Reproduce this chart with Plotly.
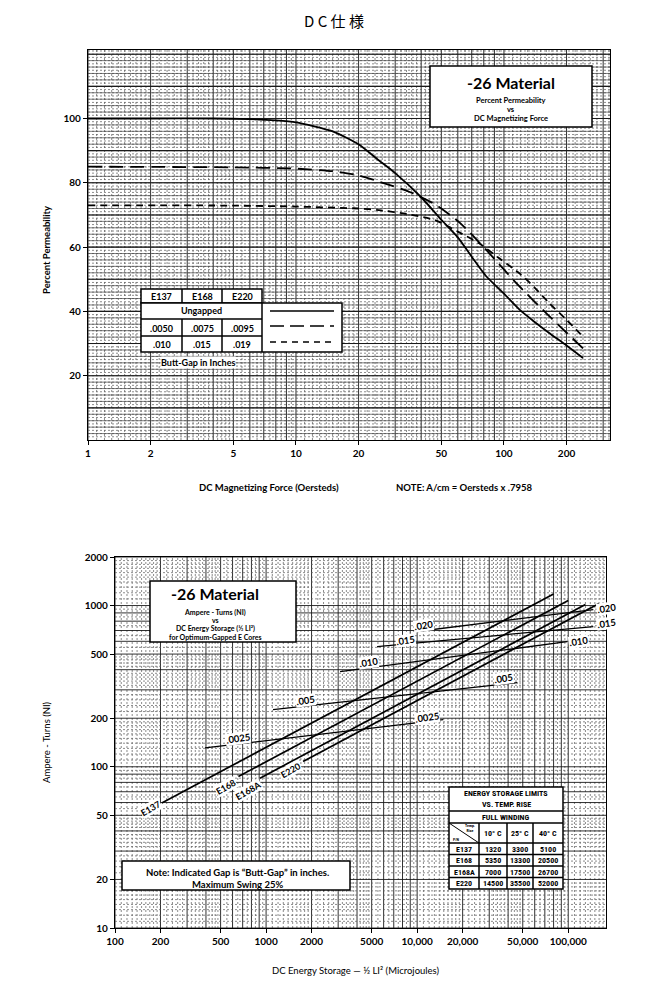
import math
import plotly.graph_objects as go

W, H = 669, 984
OFF = 8  # page body margin of the browser

# ---------------- top chart: Percent Permeability vs DC Magnetizing Force ----------------
force_solid = [1, 2, 4, 6, 8, 10, 15, 20, 25, 30, 40, 50, 60, 70, 82, 100, 120, 140, 165, 200, 240]
perm_solid = [100, 100, 100, 99.8, 99.4, 98.8, 96, 92, 87, 83, 75.5, 68.5, 63, 57, 51, 45.5, 40.3, 36.8, 33.3, 29.4, 25.5]

force_longdash = [1, 5, 10, 15, 20, 25, 35, 47, 62, 82, 115, 160, 240]
perm_longdash = [85, 84.8, 84.4, 83.6, 82.3, 80.4, 77.2, 73.2, 67.3, 59.2, 48.7, 39.4, 28.5]

force_dash = [1, 5, 10, 20, 25, 35, 47, 60, 76, 95, 120, 140, 165, 200, 240]
perm_dash = [73, 72.9, 72.6, 72, 71.5, 70.2, 68.3, 64.8, 61.2, 56.5, 51.6, 47.5, 42.6, 37.4, 32.1]

top_x_ticks = [1, 2, 5, 10, 20, 50, 100, 200]
top_y_ticks = [20, 40, 60, 80, 100]

legend_cores = ["E137", "E168", "E220"]
legend_gap_mid = [".0050", ".0075", ".0095"]
legend_gap_low = [".010", ".015", ".019"]

# ---------------- bottom chart: Ampere-Turns vs DC Energy Storage ----------------
energy_e137 = [204, 80000]
turns_e137 = [59.6, 1180]
energy_e168 = [656, 100000]
turns_e168 = [87, 1074]
energy_e168a = [912, 130000]
turns_e168a = [85, 1015]
energy_e220 = [1758, 160000]
turns_e220 = [108, 1030]

gap_0025_energy = [394, 14870]
gap_0025_turns = [131, 196]
gap_005_energy = [1112, 45900]
gap_005_turns = [226, 333]
gap_010_energy = [3090, 98400]
gap_010_turns = [389, 597]
gap_015_energy = [5430, 146600]
gap_015_turns = [556, 741]
gap_020_energy = [10000, 146600]
gap_020_turns = [690, 944]

bot_x_ticks = [100, 200, 500, 1000, 2000, 5000, 10000, 20000, 50000, 100000]
bot_x_text = ["100", "200", "500", "1000", "2000", "5000", "10,000", "20,000", "50,000", "100,000"]
bot_y_ticks = [10, 20, 50, 100, 200, 500, 1000, 2000]

table_cores = ["E137", "E168", "E168A", "E220"]
limit_10c = [1320, 5350, 7000, 14500]
limit_25c = [3300, 13300, 17500, 35500]
limit_40c = [5100, 20500, 26700, 52000]

# ---------------- geometry (pixels) ----------------
TOP = dict(l=88, r=610, t=50, b=440, xr=[0, 2.51], yr=[0, 121.3])
BOT = dict(l=115, r=606, t=557, b=928, xr=[2, 5.25], yr=[1, math.log10(2000)])

FONT = "Lato, 'Open Sans', sans-serif"


def px(x):
    return (x - OFF) / W


def py(y):
    return 1 - (y - OFF) / H


def frange(a, b, s):
    out, v = [], a
    while v < b - 1e-9:
        out.append(round(v, 6))
        v += s
    return out


SUB = frange(1.1, 2, 0.1) + [m for m in frange(2.2, 5, 0.2) if abs(m - round(m)) > 1e-6] + \
    [m for m in frange(5.5, 10, 0.5) if abs(m - round(m)) > 1e-6]


def log_vals(lo, hi, mults):
    out = []
    k = math.floor(math.log10(lo))
    while 10 ** k <= hi:
        for m in mults:
            v = m * 10 ** k
            if lo <= v <= hi:
                out.append(v)
        k += 1
    return out


fig = go.Figure()


def vlines(vals, y0, y1, xa, ya, color, width, dash="solid"):
    xs, ys = [], []
    for v in vals:
        xs += [v, v, None]
        ys += [y0, y1, None]
    fig.add_trace(go.Scatter(x=xs, y=ys, xaxis=xa, yaxis=ya, mode="lines",
                             line=dict(color=color, width=width, dash=dash),
                             hoverinfo="skip", showlegend=False))


def hlines(vals, x0, x1, xa, ya, color, width, dash="solid"):
    xs, ys = [], []
    for v in vals:
        xs += [x0, x1, None]
        ys += [v, v, None]
    fig.add_trace(go.Scatter(x=xs, y=ys, xaxis=xa, yaxis=ya, mode="lines",
                             line=dict(color=color, width=width, dash=dash),
                             hoverinfo="skip", showlegend=False))


FINE = "#5a5a5a"
MID = "#1a1a1a"

# ---- top grid ----
tx_lo, tx_hi = 10 ** TOP["xr"][0], 10 ** TOP["xr"][1]
vlines(log_vals(tx_lo, tx_hi, SUB), TOP["yr"][0], TOP["yr"][1], "x", "y", FINE, 0.7, "2px,2px")
vlines(log_vals(tx_lo, tx_hi, range(1, 10)), TOP["yr"][0], TOP["yr"][1], "x", "y", MID, 0.9)
hlines(frange(1, 121.3, 1), tx_lo, tx_hi, "x", "y", FINE, 0.7, "2px,2px")
hlines(frange(2, 121.3, 2), tx_lo, tx_hi, "x", "y", "#444444", 0.7)
hlines(frange(10, 121.3, 10), tx_lo, tx_hi, "x", "y", MID, 1.1)

# ---- bottom grid ----
bx_lo, bx_hi = 10 ** BOT["xr"][0], 10 ** BOT["xr"][1]
by_lo, by_hi = 10 ** BOT["yr"][0], 10 ** BOT["yr"][1]
vlines(log_vals(bx_lo, bx_hi, SUB), by_lo, by_hi, "x2", "y2", FINE, 0.7, "2px,2px")
vlines(log_vals(bx_lo, bx_hi, range(1, 10)), by_lo, by_hi, "x2", "y2", MID, 0.9)
hlines(log_vals(by_lo, by_hi, SUB), bx_lo, bx_hi, "x2", "y2", FINE, 0.7, "2px,2px")
hlines(log_vals(by_lo, by_hi, range(1, 10)), bx_lo, bx_hi, "x2", "y2", MID, 0.9)

# ---- top curves ----
for xs, ys, dash in [(force_solid, perm_solid, "solid"),
                     (force_longdash, perm_longdash, "14px,7px"),
                     (force_dash, perm_dash, "7px,5px")]:
    fig.add_trace(go.Scatter(x=xs, y=ys, xaxis="x", yaxis="y", mode="lines",
                             line=dict(color="black", width=1.8, dash=dash, shape="spline", smoothing=0.6),
                             hoverinfo="skip", showlegend=False))

# ---- bottom curves ----
for xs, ys in [(energy_e137, turns_e137), (energy_e168, turns_e168),
               (energy_e168a, turns_e168a), (energy_e220, turns_e220)]:
    fig.add_trace(go.Scatter(x=xs, y=ys, xaxis="x2", yaxis="y2", mode="lines",
                             line=dict(color="black", width=1.7),
                             hoverinfo="skip", showlegend=False))

for xs, ys in [(gap_0025_energy, gap_0025_turns), (gap_005_energy, gap_005_turns),
               (gap_010_energy, gap_010_turns), (gap_015_energy, gap_015_turns),
               (gap_020_energy, gap_020_turns)]:
    fig.add_trace(go.Scatter(x=xs, y=ys, xaxis="x2", yaxis="y2", mode="lines",
                             line=dict(color="black", width=1.3),
                             hoverinfo="skip", showlegend=False))

tickfont = dict(family=FONT, size=10, color="black", weight="bold")
common = dict(showgrid=False, zeroline=False, showline=True, mirror=True, linecolor="black",
              linewidth=1.2, ticks="outside", ticklen=4, tickcolor="black", tickfont=tickfont,
              automargin=False, fixedrange=True)

fig.update_layout(
    width=W, height=H, margin=dict(l=0, r=0, t=0, b=0),
    paper_bgcolor="white", plot_bgcolor="white", showlegend=False,
    xaxis=dict(type="log", range=TOP["xr"], domain=[px(TOP["l"]), px(TOP["r"])], anchor="y",
               tickmode="array", tickvals=top_x_ticks, ticktext=[str(v) for v in top_x_ticks], **common),
    yaxis=dict(range=TOP["yr"], domain=[py(TOP["b"]), py(TOP["t"])], anchor="x",
               tickmode="array", tickvals=top_y_ticks, ticktext=[str(v) for v in top_y_ticks], **common),
    xaxis2=dict(type="log", range=BOT["xr"], domain=[px(BOT["l"]), px(BOT["r"])], anchor="y2",
                tickmode="array", tickvals=bot_x_ticks, ticktext=bot_x_text, **common),
    yaxis2=dict(type="log", range=BOT["yr"], domain=[py(BOT["b"]), py(BOT["t"])], anchor="x2",
                tickmode="array", tickvals=bot_y_ticks, ticktext=[str(v) for v in bot_y_ticks], **common),
)

shapes = []
annotations = []


def rect(x0, y0, x1, y1, lw=1.5, fill="white"):
    shapes.append(dict(type="rect", xref="paper", yref="paper", x0=px(x0), x1=px(x1), y0=py(y1), y1=py(y0),
                       line=dict(color="black", width=lw), fillcolor=fill, layer="above"))


def line(x0, y0, x1, y1, lw=1.5, dash="solid"):
    shapes.append(dict(type="line", xref="paper", yref="paper", x0=px(x0), x1=px(x1), y0=py(y0), y1=py(y1),
                       line=dict(color="black", width=lw, dash=dash), layer="above"))


def text(x, y, s, size=9, bold=True, family=FONT, angle=0, bg=None, xanchor="center"):
    d = dict(xref="paper", yref="paper", x=px(x), y=py(y), text=s, showarrow=False,
             xanchor=xanchor, yanchor="middle", textangle=angle,
             font=dict(family=family, size=size, color="black", weight="bold" if bold else "normal"))
    if bg:
        d["bgcolor"] = bg
        d["borderpad"] = 0
    annotations.append(d)


# main title
text(334, 20, "D C 仕 様", size=15, bold=False, family="'Noto Sans CJK JP', sans-serif")

# ---- top title box ----
rect(430, 66, 592, 127)
text(511, 83, "-26 Material", size=16)
text(511, 100, "Percent Permeability", size=7.5)
text(511, 109, "vs", size=7.5)
text(511, 118, "DC Magnetizing Force", size=7.5)

# ---- top legend table ----
cols = [141, 182, 222, 262]
rect(141, 289, 262, 303)
rect(141, 303, 342, 352)
line(262, 303, 262, 352)
for cx in cols[1:3]:
    line(cx, 289, cx, 303)
    line(cx, 319, cx, 352)
line(141, 319, 262, 319)
line(141, 336, 262, 336)
for i in range(3):
    cxm = (cols[i] + cols[i + 1]) / 2
    text(cxm, 296.5, legend_cores[i], size=9)
    text(cxm, 328, legend_gap_mid[i], size=9)
    text(cxm, 344, legend_gap_low[i], size=9)
text(201, 311, "Ungapped", size=9)
line(270, 311, 334, 311, lw=1.6)
line(270, 326, 334, 326, lw=1.6, dash="14px,6px")
line(270, 342, 334, 342, lw=1.6, dash="6px,5px")
text(160, 362, "Butt-Gap in Inches", size=9, bg="white", xanchor="left")

# ---- top axis titles ----
text(269, 487, "DC Magnetizing Force (Oersteds)", size=9.5)
text(464, 487, "NOTE: A/cm = Oersteds x .7958", size=9.5)
text(46, 250, "Percent Permeability", size=9.5, angle=-90)

# ---- bottom title box ----
rect(150, 581, 296, 642)
text(215, 593, "-26 Material", size=16)
text(215, 612, "Ampere - Turns (NI)", size=7)
text(215, 620, "vs", size=7)
text(215, 628, "DC Energy Storage (½ LI²)", size=7)
text(215, 637, "for Optimum-Gapped E Cores", size=7)

# ---- note box ----
rect(122, 861, 350, 890)
text(237, 872, "Note: Indicated Gap is “Butt-Gap” in inches.", size=9.5)
text(237, 884, "Maximum Swing 25%", size=9.5)

# ---- energy table ----
NARROW = "'Liberation Sans Narrow', 'Arial Narrow', 'Roboto Condensed', sans-serif"
tcols = [449, 479, 507, 533, 563]
rect(449, 787, 563, 889)
line(449, 811, 563, 811)
line(449, 823, 563, 823)
rows = [843, 854.5, 866, 877.5]
for ry in rows:
    line(449, ry, 563, ry)
for cx in tcols[1:4]:
    line(cx, 823, cx, 889)
line(449, 823, 479, 843, lw=1)
text(506, 793, "ENERGY STORAGE LIMITS", size=8, family=NARROW)
text(506, 804, "VS. TEMP. RISE", size=8, family=NARROW)
text(506, 817, "FULL WINDING", size=8, family=NARROW)
text(470, 828, "Temp.<br>Rise", size=4, family=NARROW)
text(456, 839, "P/N", size=4, family=NARROW)
for i, hdr in enumerate(["10° C", "25° C", "40° C"]):
    text((tcols[i + 1] + tcols[i + 2]) / 2, 833, hdr, size=8, family=NARROW)
row_mid = [849, 860, 872, 883]
for r in range(4):
    vals = [table_cores[r], limit_10c[r], limit_25c[r], limit_40c[r]]
    for c in range(4):
        text((tcols[c] + tcols[c + 1]) / 2, row_mid[r], str(vals[c]), size=8, family=NARROW)

# ---- curve labels ----
text(150, 808, "E137", size=9, angle=-30, bg="white")
text(226, 786, "E168", size=9, angle=-30, bg="white")
text(248, 790, "E168A", size=9, angle=-30, bg="white")
text(290, 770, "E220", size=9, angle=-30, bg="white")

# ---- gap labels ----
for (gx, gy, s) in [(238, 738, ".0025"), (305, 700, ".005"), (368, 662, ".010"), (405, 640, ".015"),
                    (423, 625, ".020"), (427, 717, ".0025"), (503, 678, ".005"), (578, 641, ".010"),
                    (606, 623, ".015"), (606, 608, ".020")]:
    text(gx, gy, s, size=9.5, angle=-8, bg="white")

# ---- bottom axis titles ----
text(355, 970, "DC Energy Storage — ½ LI² (Microjoules)", size=9.5, bold=False)
text(46, 742, "Ampere - Turns (NI)", size=9.5, bold=False, angle=-90)

fig.update_layout(shapes=shapes, annotations=annotations)
fig.write_html("out.html")
